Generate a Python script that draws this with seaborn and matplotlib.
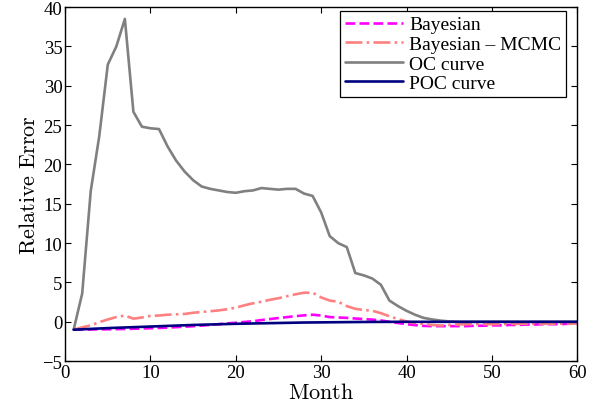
import numpy as np
import pandas as pd
import matplotlib
matplotlib.use("Agg")
import matplotlib.pyplot as plt
import seaborn as sns

months = list(range(1, 61))

bayesian = [-1.0, -0.99, -0.98, -0.96, -0.95, -0.93, -0.91, -0.88, -0.85, -0.82,
            -0.78, -0.74, -0.68, -0.62, -0.56, -0.48, -0.40, -0.30, -0.20, -0.12,
            -0.02, 0.08, 0.22, 0.35, 0.48, 0.60, 0.72, 0.82, 0.90, 0.80,
            0.60, 0.55, 0.50, 0.42, 0.35, 0.28, 0.18, 0.0, -0.15, -0.30,
            -0.42, -0.52, -0.55, -0.55, -0.55, -0.55, -0.55, -0.50, -0.50, -0.45,
            -0.45, -0.40, -0.40, -0.35, -0.35, -0.30, -0.30, -0.30, -0.25, -0.25]

bayesian_mcmc = [-1.0, -0.7, -0.45, -0.05, 0.3, 0.6, 0.8, 0.4, 0.55, 0.75,
                 0.8, 0.9, 0.95, 1.0, 1.15, 1.25, 1.35, 1.45, 1.6, 1.8,
                 2.1, 2.35, 2.55, 2.8, 3.0, 3.25, 3.5, 3.7, 3.7, 3.1,
                 2.7, 2.55, 2.0, 1.65, 1.5, 1.4, 1.1, 0.7, 0.35, 0.05,
                 -0.15, -0.3, -0.4, -0.47, -0.4, -0.35, -0.3, -0.3, -0.3, -0.3,
                 -0.28, -0.27, -0.26, -0.25, -0.25, -0.25, -0.24, -0.24, -0.23, -0.23]

oc_curve = [-1.0, 3.6, 16.6, 23.6, 32.7, 35.0, 38.5, 26.7, 24.8, 24.6,
            24.5, 22.3, 20.5, 19.1, 18.0, 17.2, 16.9, 16.7, 16.5, 16.4,
            16.6, 16.7, 17.0, 16.9, 16.8, 16.9, 16.9, 16.3, 16.0, 13.9,
            10.9, 10.0, 9.5, 6.2, 5.9, 5.5, 4.7, 2.7, 2.0, 1.4,
            0.9, 0.5, 0.3, 0.15, 0.05, 0.0, 0.0, 0.0, 0.0, 0.0,
            0.0, 0.0, 0.0, 0.0, 0.0, 0.0, 0.0, 0.0, 0.0, 0.0]

poc_curve = [-1.0, -0.95, -0.9, -0.85, -0.8, -0.76, -0.72, -0.68, -0.64, -0.6,
             -0.56, -0.52, -0.48, -0.44, -0.40, -0.37, -0.34, -0.31, -0.28, -0.25,
             -0.23, -0.21, -0.19, -0.17, -0.15, -0.13, -0.11, -0.09, -0.08, -0.07,
             -0.06, -0.05, -0.04, -0.03, -0.02, -0.015, -0.01, -0.005, 0.0, 0.0,
             0.0, 0.0, 0.0, 0.0, 0.0, 0.0, 0.0, 0.0, 0.0, 0.0,
             0.0, 0.0, 0.0, 0.0, 0.0, 0.0, 0.0, 0.0, 0.0, 0.0]

labels = ["Bayesian", "Bayesian \u2013 MCMC", "OC curve", "POC curve"]
x_ticks = [0, 10, 20, 30, 40, 50, 60]
y_ticks = [-5, 0, 5, 10, 15, 20, 25, 30, 35, 40]

sns.set_style("ticks")
plt.rcParams["font.family"] = ["Liberation Serif", "DejaVu Serif"]
plt.rcParams["mathtext.fontset"] = "cm"
plt.rcParams["text.color"] = "black"
plt.rcParams["axes.labelcolor"] = "black"

fig = plt.figure(figsize=(5.92, 4.06), dpi=100)
ax = fig.add_axes([0.110, 0.108, 0.865, 0.872])

styles = [
    dict(color="#ff00ff", linestyle="--"),
    dict(color="#ff8080", linestyle="-."),
    dict(color="#808080", linestyle="-"),
    dict(color="#000080", linestyle="-"),
]
series = [bayesian, bayesian_mcmc, oc_curve, poc_curve]
for vals, lab, st in zip(series, labels, styles):
    sns.lineplot(x=months, y=vals, ax=ax, label=lab, linewidth=1.9, **st)

ax.set_xlim(0, 60)
ax.set_ylim(-5, 40)
ax.set_xticks(x_ticks)
ax.set_yticks(y_ticks)
ax.tick_params(direction="in", length=4, width=0.8, labelsize=13.5,
               top=True, right=True, pad=2, colors="black")
for s in ax.spines.values():
    s.set_visible(True)
    s.set_linewidth(1.0)
    s.set_color("black")

ax.set_xlabel(r"$\mathrm{Month}$", fontsize=16, labelpad=1.5, color="black")
ax.set_ylabel(r"$\mathrm{Relative\ Error}$", fontsize=16, labelpad=2, color="black")

leg = ax.legend(loc="upper right", bbox_to_anchor=(0.978, 0.989), fontsize=14,
                frameon=True, fancybox=False, edgecolor="black", handlelength=3.0,
                borderpad=0.25, labelspacing=0.1, handletextpad=0.3,
                borderaxespad=0.0)
leg.get_frame().set_linewidth(0.9)
leg.get_frame().set_alpha(1)
for t in leg.get_texts():
    t.set_color("black")

fig.savefig("out.png", dpi=100)
